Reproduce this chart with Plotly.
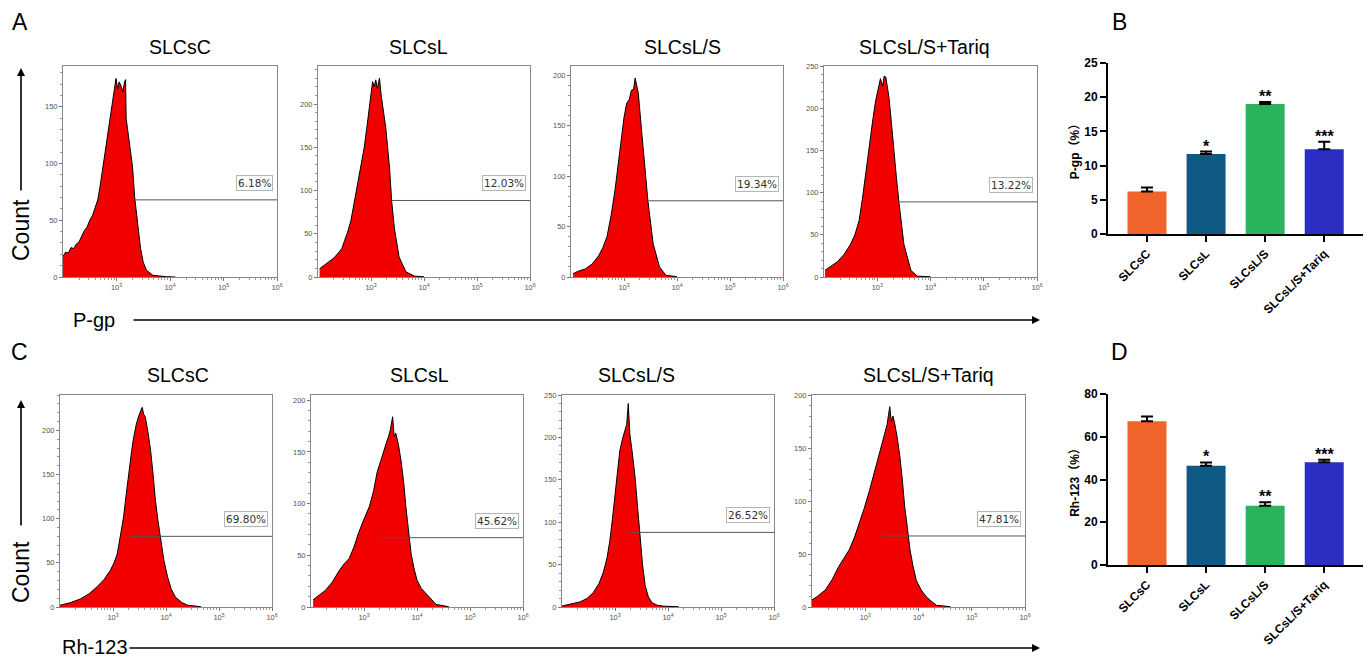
import plotly.graph_objects as go

W, H = 1371, 659
OFF = 8  # page body margin of the html page
def px(x): return (x - OFF) / W
def py(y): return 1 - (y - OFF) / H

groups = ["SLCsC", "SLCsL", "SLCsL/S", "SLCsL/S+Tariq"]

# ---- P-gp flow histograms (log10 fluorescence, count) ----
a1_logx = [2.0, 2.05, 2.1, 2.15, 2.2, 2.25, 2.3, 2.35, 2.4, 2.45, 2.5, 2.55, 2.6, 2.65, 2.69, 2.75, 2.81, 2.87, 2.93, 2.96, 2.99, 3.02, 3.05, 3.09, 3.12, 3.15, 3.17, 3.18, 3.25, 3.3, 3.34, 3.4, 3.45, 3.5, 3.56, 3.68, 3.8, 3.93, 4.1]
a1_count = [18, 22, 21, 26, 25, 29, 31, 36, 41, 44, 50, 54, 62, 68, 79, 98, 120, 140, 156, 168, 175, 166, 172, 168, 163, 172, 174, 140, 115, 97, 70, 42, 25, 13, 6, 1.5, 0.8, 0.3, 0]
a2_logx = [2.03, 2.1, 2.2, 2.3, 2.4, 2.45, 2.5, 2.56, 2.62, 2.7, 2.78, 2.87, 2.92, 2.97, 3.0, 3.03, 3.06, 3.09, 3.12, 3.16, 3.19, 3.24, 3.28, 3.35, 3.39, 3.44, 3.53, 3.66, 3.82, 4.0]
a2_count = [9.6, 13, 17, 22, 29, 33, 42, 52, 65, 92, 119, 149, 172, 195, 212, 226, 220, 228, 218, 230, 211, 192, 172, 126, 88, 57, 23, 6, 1, 0.3]
a3_logx = [2.04, 2.15, 2.27, 2.4, 2.52, 2.6, 2.68, 2.76, 2.83, 2.9, 2.96, 3.0, 3.05, 3.1, 3.14, 3.18, 3.21, 3.24, 3.27, 3.32, 3.36, 3.45, 3.55, 3.67, 3.79, 4.0]
a3_count = [3.3, 6, 8, 13, 21, 29, 40, 62, 86, 115, 142, 158, 172, 176, 185, 186, 197, 188, 182, 152, 126, 76, 33, 10, 1.7, 0.3]
a4_logx = [2.02, 2.12, 2.25, 2.38, 2.5, 2.58, 2.66, 2.72, 2.78, 2.83, 2.875, 2.92, 2.97, 3.02, 3.06, 3.1, 3.13, 3.16, 3.19, 3.22, 3.27, 3.31, 3.36, 3.41, 3.5, 3.63, 3.75, 4.0]
a4_count = [8, 12, 18, 27, 39, 50, 67, 92, 122, 145, 166, 188, 209, 225, 235, 226, 238, 237, 225, 213, 180, 150, 118, 87, 39, 8, 1, 0.3]

# ---- Rh-123 flow histograms ----
c1_logx = [2.0, 2.2, 2.38, 2.55, 2.7, 2.83, 2.95, 3.02, 3.08, 3.14, 3.2, 3.25, 3.3, 3.35, 3.39, 3.44, 3.49, 3.52, 3.55, 3.58, 3.61, 3.66, 3.71, 3.76, 3.8, 3.85, 3.9, 3.96, 4.03, 4.1, 4.18, 4.3, 4.41, 4.66]
c1_count = [2, 5, 9, 15, 23, 31, 41.5, 50, 60, 80, 102, 128, 155, 176, 192, 207, 217, 222, 226, 218, 215, 198, 177, 148, 121, 97, 75, 53, 34, 20, 11, 5, 2, 0.3]
c2_logx = [2.04, 2.15, 2.27, 2.4, 2.53, 2.63, 2.72, 2.81, 2.9, 3.0, 3.1, 3.18, 3.25, 3.32, 3.38, 3.43, 3.47, 3.5, 3.54, 3.57, 3.6, 3.65, 3.7, 3.75, 3.79, 3.84, 3.89, 3.95, 4.0, 4.08, 4.17, 4.26, 4.36, 4.6]
c2_count = [7, 11, 16, 24, 35, 42, 47, 58, 72, 85, 97, 112, 131, 142, 153, 160, 166, 172, 184, 165, 168, 157, 141, 120, 97, 73, 51, 36, 26, 18, 13, 7, 2.5, 0.3]
c3_logx = [2.0, 2.15, 2.34, 2.47, 2.59, 2.7, 2.78, 2.85, 2.9, 2.95, 3.0, 3.05, 3.09, 3.14, 3.19, 3.22, 3.25, 3.27, 3.28, 3.33, 3.38, 3.43, 3.47, 3.52, 3.57, 3.63, 3.7, 3.8, 3.92, 4.2]
c3_count = [1.2, 3, 6, 10, 17, 28, 41, 58, 77, 103, 133, 160, 184, 198, 208, 215, 240, 212, 204, 180, 152, 115, 81, 50, 25, 12, 5, 2, 1, 0.3]
c4_logx = [1.98, 2.1, 2.25, 2.38, 2.5, 2.6, 2.7, 2.8, 2.89, 2.98, 3.08, 3.16, 3.23, 3.3, 3.36, 3.41, 3.46, 3.49, 3.52, 3.55, 3.6, 3.65, 3.7, 3.74, 3.79, 3.84, 3.9, 3.96, 4.05, 4.15, 4.25, 4.34, 4.6]
c4_count = [6, 10, 16, 26, 38, 46, 54, 66, 79, 93, 110, 125, 139, 152, 164, 172, 189, 175, 180, 174, 160, 142, 118, 95, 75, 54, 38, 25, 16, 9.5, 5, 1.6, 0.3]

# gates
pgp_gate_start = [3.34, 3.39, 3.46, 3.40]
pgp_gate_level = [68, 88.5, 75.5, 89]
pgp_pct = ["6.18%", "12.03%", "19.34%", "13.22%"]
rh_gate_start = [3.33, 3.32, 3.28, 3.30]
rh_gate_level = [80, 67, 88, 67]
rh_pct = ["69.80%", "45.62%", "26.52%", "47.81%"]

# bar summaries
pgp_mean = [6.2, 11.7, 19.0, 12.4]
pgp_err = [0.6, 0.35, 0.3, 1.1]
rh_mean = [67.2, 46.4, 27.7, 48.1]
rh_err = [2.3, 1.6, 1.7, 1.1]
sig = ["", "*", "**", "***"]
bar_colors = ["#F0632A", "#0E5A85", "#2BB35B", "#2C2EC2"]

FONT = "Arial, Liberation Sans, Noto Sans CJK SC"

# layout geometry (pixels in the reference picture)
top_x = [(63, 277), (318, 530), (571, 783), (824, 1037)]
bot_x = [(60, 272), (311, 523), (562, 774), (812, 1025)]
top_y = (66, 277)
bot_y = (395, 607)
pgp_ymax = [186, 244, 209, 250]
rh_ymax = [240, 205, 250, 200]

hist_x = [a1_logx, a2_logx, a3_logx, a4_logx, c1_logx, c2_logx, c3_logx, c4_logx]
hist_y = [a1_count, a2_count, a3_count, a4_count, c1_count, c2_count, c3_count, c4_count]
gate_start = pgp_gate_start + rh_gate_start
gate_level = pgp_gate_level + rh_gate_level
pcts = pgp_pct + rh_pct
ymaxs = pgp_ymax + rh_ymax
xdoms = top_x + bot_x
ydoms = [top_y] * 4 + [bot_y] * 4


def ax_names(n):
    s = "" if n == 1 else str(n)
    return "x" + s, "y" + s, "xaxis" + s, "yaxis" + s


fig = go.Figure()
layout = dict(width=W, height=H, margin=dict(l=0, r=0, t=0, b=0, pad=0, autoexpand=False),
              paper_bgcolor="white", plot_bgcolor="white", showlegend=False,
              font=dict(family=FONT, color="black"))
annotations = []

minor_vals = [k * 10 ** d for d in range(2, 6) for k in range(2, 10)]

for i in range(8):
    n = i + 1
    xa, ya, xk, yk = ax_names(n)
    fig.add_trace(go.Scatter(x=[10 ** v for v in hist_x[i]], y=hist_y[i], xaxis=xa, yaxis=ya,
                             mode="lines", fill="tozeroy", fillcolor="#F20000",
                             line=dict(color="black", width=1), hoverinfo="skip"))
    fig.add_trace(go.Scatter(x=[10 ** gate_start[i], 1e6], y=[gate_level[i], gate_level[i]],
                             xaxis=xa, yaxis=ya, mode="lines",
                             line=dict(color="#555555", width=1), hoverinfo="skip"))
    x0, x1 = xdoms[i]
    y0, y1 = ydoms[i]
    layout[xk] = dict(domain=[px(x0), px(x1)], anchor=ya, type="log", range=[2.0, 6.0],
                      tickmode="array", tickvals=[1e3, 1e4, 1e5, 1e6],
                      ticktext=["10<sup>3</sup>", "10<sup>4</sup>", "10<sup>5</sup>", "10<sup>6</sup>"],
                      ticks="outside", ticklen=3, tickcolor="#777",
                      minor=dict(tickmode="array", tickvals=minor_vals, ticks="outside", ticklen=2, tickcolor="#999"),
                      showline=True, linecolor="#888", linewidth=1, mirror=True,
                      showgrid=False, zeroline=False, automargin=False,
                      tickfont=dict(size=7.5, color="#555"))
    layout[yk] = dict(domain=[py(y1), py(y0)], anchor=xa, range=[0, ymaxs[i]],
                      dtick=50, ticks="outside", ticklen=3, tickcolor="#777",
                      minor=dict(ticks="outside", ticklen=2, dtick=10, tickcolor="#999"),
                      showline=True, linecolor="#888", linewidth=1, mirror=True,
                      showgrid=False, zeroline=False, automargin=False,
                      tickfont=dict(size=7.5, color="#555"))
    annotations.append(dict(xref=f"{xa} domain", yref=ya, x=0.982, y=gate_level[i], yshift=17,
                            xanchor="right", yanchor="middle", text=pcts[i], showarrow=False,
                            font=dict(family="DejaVu Sans", size=10.5, color="#333"),
                            bgcolor="white", bordercolor="#B5B5B5", borderwidth=1, borderpad=1))

# bar charts
bar_sets = [(pgp_mean, pgp_err, 9, (1108, 1365), (63, 234), [0, 25], 5, "P-gp（%）"),
            (rh_mean, rh_err, 10, (1108, 1365), (394, 565), [0, 80], 20, "Rh-123（%）")]
for mean, err, n, (x0, x1), (y0, y1), yr, dt, title in bar_sets:
    xa, ya, xk, yk = ax_names(n)
    fig.add_trace(go.Bar(x=groups, y=mean, xaxis=xa, yaxis=ya, width=0.66,
                         marker=dict(color=bar_colors, line=dict(width=0)),
                         error_y=dict(type="data", array=err, arrayminus=[0] * 4, symmetric=False,
                                      color="black", thickness=2, width=6)))
    layout[xk] = dict(domain=[px(x0), px(x1)], anchor=ya, type="category",
                      range=[-0.66, 3.69], showline=True, linecolor="black", linewidth=2,
                      ticks="outside", ticklen=6, tickwidth=2, tickcolor="black",
                      tickangle=-45, showgrid=False, automargin=False,
                      tickfont=dict(size=12, family=FONT, weight="bold"))
    layout[yk] = dict(domain=[py(y1), py(y0)], anchor=xa, range=yr, dtick=dt,
                      showline=True, linecolor="black", linewidth=2,
                      ticks="outside", ticklen=6, tickwidth=2, tickcolor="black",
                      showgrid=False, zeroline=False, automargin=False,
                      tickfont=dict(size=12, family=FONT, weight="bold"),
                      title=dict(text=title, standoff=2,
                                 font=dict(size=12, family=FONT, weight="bold")))
    for g, m, e, s in zip(groups, mean, err, sig):
        if s:
            annotations.append(dict(xref=xa, yref=ya, x=g, y=m + e, text=s, showarrow=False,
                                    yanchor="bottom", yshift=-5,
                                    font=dict(size=16, family=FONT, weight="bold")))

# panel titles
top_title_x = [180, 418, 682, 924]
bot_title_x = [178, 420, 636, 928]
for t, xx in zip(groups, top_title_x):
    annotations.append(dict(xref="paper", yref="paper", x=px(xx), y=py(47), text=t, showarrow=False,
                            xanchor="center", yanchor="middle", font=dict(size=19.5, family=FONT)))
for t, xx in zip(groups, bot_title_x):
    annotations.append(dict(xref="paper", yref="paper", x=px(xx), y=py(375), text=t, showarrow=False,
                            xanchor="center", yanchor="middle", font=dict(size=19.5, family=FONT)))

# panel letters
for t, xx, yy in [("A", 20, 22), ("B", 1119, 22), ("C", 19, 352), ("D", 1119, 352)]:
    annotations.append(dict(xref="paper", yref="paper", x=px(xx), y=py(yy), text=t, showarrow=False,
                            xanchor="center", yanchor="middle", font=dict(size=23, family=FONT)))

# axis-style labels
for yy in (230, 572):
    annotations.append(dict(xref="paper", yref="paper", x=px(21), y=py(yy), text="Count", textangle=-90,
                            showarrow=False, xanchor="center", yanchor="middle",
                            font=dict(size=23, family=FONT)))
annotations.append(dict(xref="paper", yref="paper", x=px(94), y=py(320), text="P-gp", showarrow=False,
                        xanchor="center", yanchor="middle", font=dict(size=20, family=FONT)))
annotations.append(dict(xref="paper", yref="paper", x=px(95), y=py(647), text="Rh-123", showarrow=False,
                        xanchor="center", yanchor="middle", font=dict(size=20, family=FONT)))

# arrows
for tip_y, length in ((68, 124), (400, 127)):
    annotations.append(dict(xref="paper", yref="paper", x=px(21), y=py(tip_y), ax=0, ay=length,
                            text="", showarrow=True, arrowhead=2, arrowsize=1, arrowwidth=1.6,
                            arrowcolor="black"))
for tip_y, length in ((320, 908), (648, 912)):
    annotations.append(dict(xref="paper", yref="paper", x=px(1040), y=py(tip_y), ax=-length, ay=0,
                            text="", showarrow=True, arrowhead=2, arrowsize=1, arrowwidth=1.6,
                            arrowcolor="black"))

layout["annotations"] = annotations
fig.update_layout(**layout)
fig.write_html("out.html")
